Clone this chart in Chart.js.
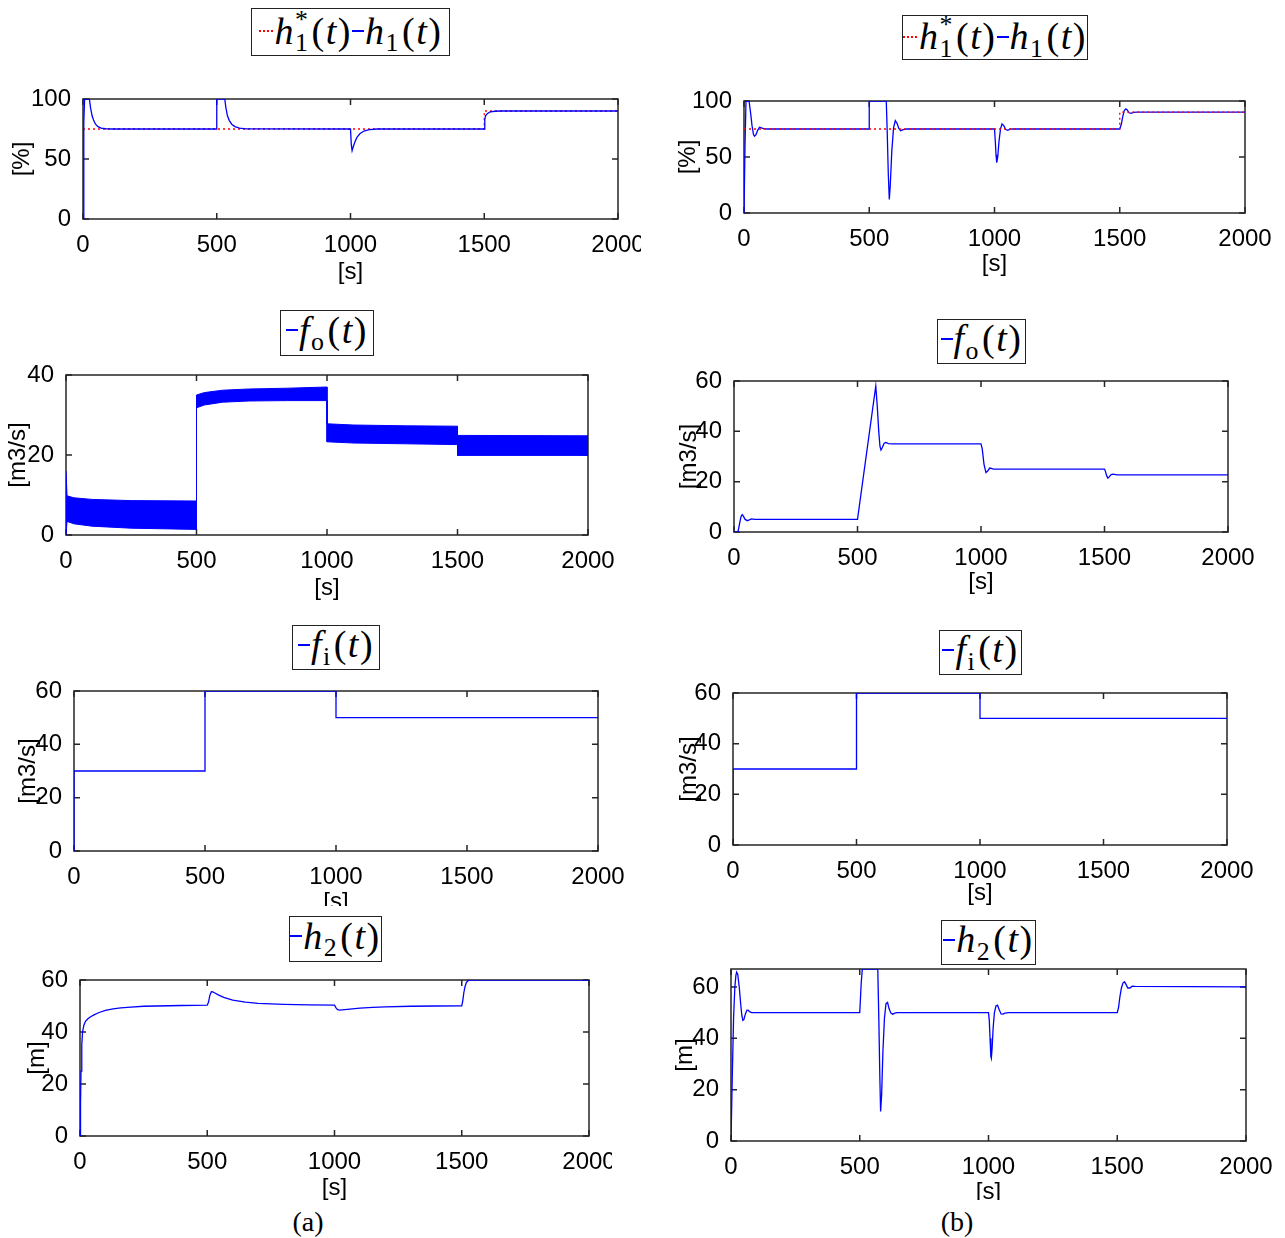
<!DOCTYPE html>
<html>
<head>
<meta charset="utf-8">
<script src="https://cdn.jsdelivr.net/npm/chart.js@4.4.1/dist/chart.umd.min.js"></script>
<style>
  html, body { margin: 0; padding: 0; background: #fff; }
  body { width: 1285px; height: 1238px; position: relative; overflow: hidden; }
  canvas { position: absolute; }
  .lg {
    position: absolute; box-sizing: border-box; border: 1.5px solid #222; background: #fff;
    display: flex; align-items: center; justify-content: center;
    font-family: "Liberation Serif", serif; font-size: 38px; color: #000; white-space: nowrap;
  }
  .lg > span { display: inline-block; line-height: 1; letter-spacing: 0.04em; }
  .lg i { font-style: italic; }
  .seg { display: inline-block; width: 12px; height: 2px; background: #00f; margin-right: 1px; vertical-align: 0.3em; }
  .seg.red { width: 15px; background: repeating-linear-gradient(90deg, #f00 0 2px, transparent 2px 4px); }
  .ss { display: inline-block; font-size: 0.68em; line-height: 0.9; vertical-align: -0.3em; text-align: left; margin-right: 2px; }
  .sb { font-size: 0.68em; vertical-align: -0.3em; margin-right: 2px; }
  .cap { position: absolute; font-family: "Liberation Serif", serif; font-size: 28px; transform: translate(-50%, -50%); }
</style>
</head>
<body>

<div class="lg" style="left:251px;top:8px;width:199px;height:48px"><span><span class="seg red"></span><i>h</i><span class="ss">*<br>1</span>(<i>t</i>)<span class="seg"></span><i>h</i><span class="sb">1</span>(<i>t</i>)</span></div>
<div class="lg" style="left:902px;top:15px;width:186px;height:45px"><span><span class="seg red"></span><i>h</i><span class="ss">*<br>1</span>(<i>t</i>)<span class="seg"></span><i>h</i><span class="sb">1</span>(<i>t</i>)</span></div>
<div class="lg" style="left:280px;top:310px;width:94px;height:46px"><span><span class="seg"></span><i>f</i><span class="sb">o</span>(<i>t</i>)</span></div>
<div class="lg" style="left:937px;top:319px;width:89px;height:45px"><span><span class="seg"></span><i>f</i><span class="sb">o</span>(<i>t</i>)</span></div>
<div class="lg" style="left:292px;top:625px;width:88px;height:45px"><span><span class="seg"></span><i>f</i><span class="sb">i</span>(<i>t</i>)</span></div>
<div class="lg" style="left:939px;top:630px;width:83px;height:45px"><span><span class="seg"></span><i>f</i><span class="sb">i</span>(<i>t</i>)</span></div>
<div class="lg" style="left:289px;top:916px;width:93px;height:46px"><span><span class="seg"></span><i>h</i><span class="sb">2</span>(<i>t</i>)</span></div>
<div class="lg" style="left:941px;top:920px;width:95px;height:45px"><span><span class="seg"></span><i>h</i><span class="sb">2</span>(<i>t</i>)</span></div>

<div class="cap" style="left:308px;top:1222px">(a)</div>
<div class="cap" style="left:957px;top:1222px">(b)</div>

<script>
// tick labels
const timeTicks = [0, 500, 1000, 1500, 2000];
const pctTicks = [0, 50, 100];
const flowTicksA = [0, 20, 40];
const sixtyTicks = [0, 20, 40, 60];

// (a) level h1: reference (dotted) and response
const h1RefT_a = [0, 1500, 1500, 2000];
const h1RefV_a = [75, 75, 90, 90];
const h1T_a = [0, 3, 6, 24, 28, 34, 40, 47, 56, 68, 85, 110, 500, 500, 530, 534, 540, 547, 556, 568, 585, 610, 1000, 1003, 1006, 1010, 1016, 1024, 1035, 1050, 1070, 1100, 1500, 1502, 1505, 1512, 1522, 1540, 1560, 2000];
const h1V_a = [0, 80, 100, 100, 93, 86, 82, 79, 77, 75.8, 75.2, 75, 75, 100, 100, 93, 86, 82, 79, 77, 75.8, 75.1, 75, 62, 57, 60, 64, 68, 71, 73.3, 74.4, 75, 75, 83, 86, 88, 89.2, 89.8, 90, 90];

// (b) level h1
const h1RefT_b = [0, 1500, 1500, 2000];
const h1RefV_b = [75, 75, 90, 90];
const h1T_b = [0, 4, 8, 20, 26, 32, 38, 42, 48, 55, 62, 70, 80, 95, 500, 500, 568, 572, 576, 580, 584, 590, 597, 604, 611, 618, 625, 635, 650, 1000, 1003, 1006, 1009, 1013, 1018, 1024, 1030, 1037, 1045, 1053, 1062, 1075, 1500, 1506, 1512, 1518, 1524, 1530, 1537, 1545, 1555, 1570, 2000];
const h1V_b = [0, 60, 100, 100, 90, 78, 70, 68.5, 70, 74, 76.5, 76, 75.2, 75, 75, 100, 100, 70, 35, 12, 25, 55, 76, 82.5, 80, 75.5, 73.5, 74.5, 75, 75, 65, 52, 45, 50, 64, 75, 79.5, 78, 74.5, 73.8, 74.8, 75, 75, 79, 86, 91.5, 93, 92, 89.5, 89, 89.8, 90, 90];

// (a) outflow fo: band between upper and lower envelope of the oscillation
const foBandT_a = [0, 4, 30, 100, 250, 500, 500, 530, 600, 700, 850, 1000, 1000, 1100, 1300, 1500, 1500, 2000];
const foUpper_a = [16, 9.8, 9.3, 8.9, 8.6, 8.5, 35.0, 35.6, 36.2, 36.5, 36.7, 37.0, 27.8, 27.5, 27.3, 27.2, 24.9, 24.8];
const foLower_a = [0, 3.4, 2.8, 2.2, 1.7, 1.4, 31.8, 32.5, 33.2, 33.5, 33.6, 33.6, 23.3, 23.0, 22.8, 22.6, 19.9, 19.9];

// (b) outflow fo
const foT_b = [0, 16, 22, 28, 33, 38, 45, 54, 62, 70, 85, 500, 574, 580, 586, 591, 595, 600, 608, 615, 625, 640, 1000, 1005, 1012, 1020, 1027, 1035, 1042, 1050, 1500, 1504, 1509, 1514, 1520, 1527, 1535, 1550, 2000];
const foV_b = [0, 0, 3, 6, 6.9, 6.3, 5, 4.5, 4.8, 5.2, 5, 5, 58, 50, 40, 34, 32.6, 33.5, 35.3, 35.6, 35.1, 35, 35, 33, 27, 23.6, 24.2, 25.4, 25.3, 25, 25, 24, 22.3, 21.4, 22, 22.8, 23, 22.7, 22.7];

// inflow fi (same in both)
const fiT = [0, 0, 500, 500, 1000, 1000, 2000];
const fiV = [0, 30, 30, 60, 60, 50, 50];

// (a) level h2
const h2T_a = [0, 2, 4, 7, 10, 15, 21, 30, 40, 55, 75, 100, 130, 160, 200, 250, 300, 400, 500, 505, 510, 516, 522, 530, 545, 565, 600, 650, 700, 800, 900, 1000, 1006, 1012, 1020, 1040, 1070, 1100, 1150, 1200, 1300, 1400, 1500, 1504, 1508, 1513, 1518, 1525, 1535, 2000];
const h2V_a = [0, 12, 25, 35, 40, 42.5, 44, 45, 45.8, 46.6, 47.5, 48.3, 48.9, 49.3, 49.6, 49.9, 50, 50.2, 50.3, 51.5, 54, 55.5, 55.4, 55, 54.2, 53.3, 52.3, 51.5, 51, 50.6, 50.4, 50.3, 49.3, 48.6, 48.4, 48.6, 48.9, 49.2, 49.5, 49.7, 49.9, 50, 50.1, 52, 55, 57.5, 59, 59.8, 60, 60];

// (b) level h2
const h2T_b = [0, 5, 10, 15, 19, 22, 26, 32, 38, 42, 46, 50, 56, 62, 66, 72, 80, 95, 500, 503, 506, 510, 570, 574, 578, 581, 585, 590, 596, 602, 608, 614, 621, 628, 636, 645, 660, 1000, 1003, 1006, 1009, 1011, 1014, 1018, 1023, 1029, 1035, 1042, 1049, 1056, 1064, 1078, 1500, 1505, 1510, 1516, 1522, 1528, 1534, 1541, 1549, 1558, 1570, 2000];
const h2V_b = [0, 25, 48, 60, 64.5, 65.8, 65, 60, 53, 49, 47, 47.3, 49.5, 51, 51, 50.4, 50, 50, 50, 56, 62, 67, 67, 48, 25, 11.5, 18, 35, 48, 53.5, 54, 51.5, 49.8, 49.4, 49.8, 50, 50, 50, 47, 40, 33, 32.2, 36, 44, 50, 52.6, 52.9, 51, 49.5, 49.4, 49.8, 50, 50, 52, 56, 59.5, 61.5, 62, 61, 59.6, 59.6, 60.3, 60.2, 60];

const BLUE = '#0000ff';
const RED = '#ff0000';
const FONT = '"Liberation Sans", Arial, sans-serif';
const FS = 24;

const pts = (ts, vs) => ts.map((t, i) => ({ x: t, y: vs[i] }));
const line = (ts, vs, color, dash) => ({
  data: pts(ts, vs), borderColor: color, borderWidth: 1.3, borderDash: dash || [],
  pointRadius: 0, fill: false, tension: 0
});

// MATLAB-like box with inward ticks on all four sides
const boxTicks = {
  id: 'boxTicks',
  beforeDatasetsDraw(chart) {
    const { ctx, chartArea: a, scales: { x, y } } = chart;
    ctx.save();
    ctx.strokeStyle = '#262626';
    ctx.lineWidth = 1.5;
    ctx.strokeRect(a.left, a.top, a.right - a.left, a.bottom - a.top);
    ctx.beginPath();
    x.ticks.forEach(t => {
      const px = x.getPixelForValue(t.value);
      ctx.moveTo(px, a.bottom); ctx.lineTo(px, a.bottom - 6);
      ctx.moveTo(px, a.top); ctx.lineTo(px, a.top + 6);
    });
    y.ticks.forEach(t => {
      const py = y.getPixelForValue(t.value);
      ctx.moveTo(a.left, py); ctx.lineTo(a.left + 6, py);
      ctx.moveTo(a.right, py); ctx.lineTo(a.right - 6, py);
    });
    ctx.stroke();
    ctx.restore();
  }
};

const panels = [
  { plot: [83, 99, 618, 219], ytc: 22, xtc: 272, clipR: 641, clipB: 292, yMax: 100, yTicks: pctTicks, yTitle: '[%]',
    sets: [line(h1T_a, h1V_a, BLUE), line(h1RefT_a, h1RefV_a, RED, [2, 3])] },
  { plot: [744, 101, 1245, 213], ytc: 688, xtc: 264, clipR: 1282, clipB: 285, yMax: 100, yTicks: pctTicks, yTitle: '[%]',
    sets: [line(h1RefT_b, h1RefV_b, RED, [2, 3]), line(h1T_b, h1V_b, BLUE)] },
  { plot: [66, 375, 588, 535], ytc: 18, xtc: 588, clipR: 625, clipB: 606, yMax: 40, yTicks: flowTicksA, yTitle: '[m3/s]',
    sets: [
      Object.assign(line(foBandT_a, foUpper_a, BLUE), { fill: '+1', backgroundColor: BLUE, borderWidth: 1 }),
      Object.assign(line(foBandT_a, foLower_a, BLUE), { borderWidth: 1 })
    ] },
  { plot: [734, 381, 1228, 532], ytc: 689, xtc: 582, clipR: 1275, clipB: 600, yMax: 60, yTicks: sixtyTicks, yTitle: '[m3/s]',
    sets: [line(foT_b, foV_b, BLUE)] },
  { plot: [74, 691, 598, 851], ytc: 28, xtc: 902, clipR: 635, clipB: 906, yMax: 60, yTicks: sixtyTicks, yTitle: '[m3/s]',
    sets: [line(fiT, fiV, BLUE)] },
  { plot: [733, 693, 1227, 845], ytc: 689, xtc: 893, clipR: 1275, clipB: 912, yMax: 60, yTicks: sixtyTicks, yTitle: '[m3/s]',
    sets: [line(fiT, fiV, BLUE)] },
  { plot: [80, 980, 589, 1136], ytc: 37, xtc: 1188, clipR: 612, clipB: 1205, yMax: 60, yTicks: sixtyTicks, yTitle: '[m]',
    sets: [line(h2T_a, h2V_a, BLUE)] },
  { plot: [731, 969, 1246, 1141], ytc: 685, xtc: 1192, clipR: 1284, clipB: 1200, yMax: 67, yTicks: sixtyTicks, yTitle: '[m]',
    sets: [line(h2T_b, h2V_b, BLUE)] }
];

const padTop = 16;
const halfLine = FS * 1.2 / 2;

panels.forEach(p => {
  const [L, T, R, B] = p.plot;
  const left = Math.round(p.ytc - halfLine);
  const top = T - padTop;
  const cv = document.createElement('canvas');
  cv.width = p.clipR - left;
  cv.height = p.clipB - top;
  cv.style.left = left + 'px';
  cv.style.top = top + 'px';
  document.body.appendChild(cv);

  const yw = L - left;
  const xh = p.clipB - B;
  const titlePadB = p.clipB - halfLine - p.xtc;
  const font = { family: FONT, size: FS };

  new Chart(cv.getContext('2d'), {
    type: 'line',
    data: { datasets: p.sets },
    options: {
      responsive: false,
      animation: false,
      devicePixelRatio: 1,
      layout: { padding: { top: padTop, right: p.clipR - R, left: 0, bottom: 0 } },
      plugins: { legend: { display: false }, tooltip: { enabled: false } },
      scales: {
        x: {
          type: 'linear', min: 0, max: 2000,
          afterBuildTicks: s => { s.ticks = timeTicks.map(v => ({ value: v })); },
          ticks: { autoSkip: false, maxRotation: 0, color: '#000', padding: 4, font, callback: v => String(v) },
          grid: { display: false },
          border: { display: false },
          title: { display: true, text: '[s]', color: '#000', font, padding: { top: 0, bottom: titlePadB } },
          afterFit: s => { s.height = xh; s.paddingLeft = 0; s.paddingRight = 0; }
        },
        y: {
          type: 'linear', min: 0, max: p.yMax,
          afterBuildTicks: s => { s.ticks = p.yTicks.map(v => ({ value: v })); },
          ticks: { autoSkip: false, color: '#000', padding: 4, font, callback: v => String(v) },
          grid: { display: false },
          border: { display: false },
          title: { display: true, text: p.yTitle, color: '#000', font, padding: { top: 0, bottom: 0 } },
          afterFit: s => { s.width = yw; s.paddingTop = 0; s.paddingBottom = 0; }
        }
      }
    },
    plugins: [boxTicks]
  });
});
</script>
</body>
</html>
